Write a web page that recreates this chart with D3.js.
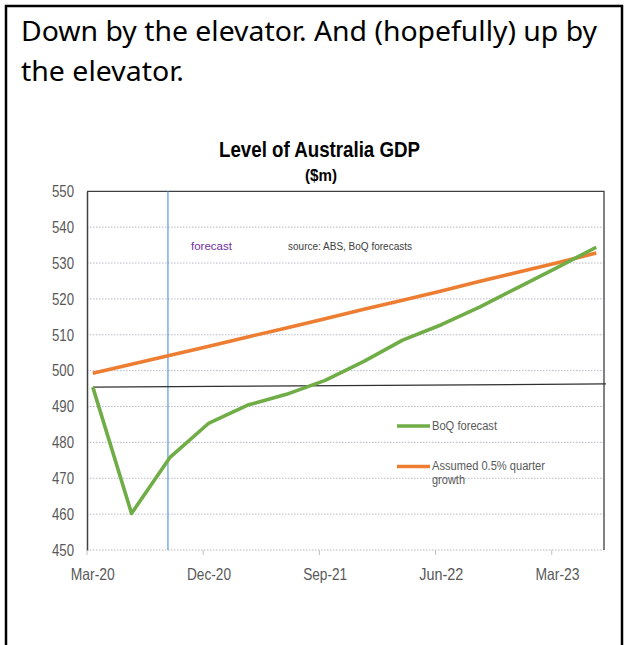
<!DOCTYPE html>
<html>
<head>
<meta charset="utf-8">
<script src="https://cdn.jsdelivr.net/npm/d3@7"></script>
<style>
  html, body { margin: 0; padding: 0; background: #fff; }
  svg { display: block; }
</style>
</head>
<body>
<svg id="chart" width="626" height="645"></svg>
<script>
// ---- data ----
const quarters = ["Mar-20","Jun-20","Sep-20","Dec-20","Mar-21","Jun-21","Sep-21","Dec-21","Mar-22","Jun-22","Sep-22","Dec-22","Mar-23","Jun-23"];
const boqForecast = [495.4, 460.2, 475.9, 485.4, 490.4, 493.4, 497.3, 502.6, 508.5, 512.8, 517.8, 523.3, 528.8, 534.4];
const assumedGrowth = [499.3, 501.8, 504.3, 506.8, 509.4, 511.9, 514.5, 517.1, 519.6, 522.2, 524.9, 527.5, 530.1, 532.8];
const preCovidLevel = [495.4, 496.3];          // black reference line, start and end
const preCovidIdx = [0, 13.25];
const tickLabels = ["Mar-20","Dec-20","Sep-21","Jun-22","Mar-23"];
const yTicks = [450,460,470,480,490,500,510,520,530,540,550];
const forecastStartIdx = 1.94;
const seriesNames = ["BoQ forecast", "Assumed 0.5% quarter", "growth"];

// ---- layout ----
const svg = d3.select("#chart");
const L = 87, R = 604, T = 191.3, B = 550;
const x = d3.scaleLinear().domain([-0.15, 13.2]).range([L, R]);
const y = d3.scaleLinear().domain([450, 550]).range([B, T]);
const narrow = "'Liberation Sans Narrow','Arial Narrow','Liberation Sans',Arial,sans-serif";

// outer frame
svg.append("rect").attr("x", 6).attr("y", 6).attr("width", 616).attr("height", 680)
  .attr("fill", "none").attr("stroke", "#000").attr("stroke-width", 2.5);

// header text
const hdr = svg.append("g").attr("font-family", "Tahoma,'Noto Sans','Open Sans',sans-serif")
  .attr("font-size", 27).attr("fill", "#000");
hdr.append("text").attr("x", 21).attr("y", 41).attr("textLength", 576).attr("lengthAdjust", "spacingAndGlyphs")
  .text("Down by the elevator. And (hopefully) up by");
hdr.append("text").attr("x", 21).attr("y", 81).attr("textLength", 163).attr("lengthAdjust", "spacingAndGlyphs")
  .text("the elevator.");

// title
svg.append("text").attr("x", 219).attr("y", 157).attr("font-family", narrow).attr("font-weight", "bold")
  .attr("font-size", 22).attr("textLength", 201).attr("lengthAdjust", "spacingAndGlyphs").attr("fill", "#000")
  .text("Level of Australia GDP");
svg.append("text").attr("x", 305).attr("y", 181).attr("font-family", narrow).attr("font-weight", "bold")
  .attr("font-size", 17).attr("textLength", 32).attr("lengthAdjust", "spacingAndGlyphs").attr("fill", "#000")
  .text("($m)");

// gridlines
svg.append("g").selectAll("line").data(yTicks.filter(v => v > 450 && v < 550)).join("line")
  .attr("x1", L).attr("x2", R).attr("y1", d => y(d)).attr("y2", d => y(d))
  .attr("stroke", "#b8b8cc").attr("stroke-width", 1).attr("stroke-dasharray", "1.5,1.5");
// bottom line (dotted)
svg.append("line").attr("x1", L).attr("x2", R).attr("y1", y(450)).attr("y2", y(450))
  .attr("stroke", "#b8b8b8").attr("stroke-width", 1).attr("stroke-dasharray", "1.5,1.5");
// top and right border
svg.append("path").attr("d", `M${L},${y(550)}H${R}V${y(450)}`).attr("fill", "none")
  .attr("stroke", "#404040").attr("stroke-width", 1.3);

// y axis
const yAxis = d3.axisLeft(y).tickValues(yTicks).tickSize(0).tickPadding(13);
const ya = svg.append("g").attr("transform", `translate(${L},0)`).call(yAxis);
ya.select(".domain").attr("stroke", "#404040").attr("stroke-width", 1.5);
ya.selectAll("text").attr("font-family", narrow).attr("font-size", 16.5).attr("fill", "#595959")
  .attr("textLength", 22).attr("lengthAdjust", "spacingAndGlyphs");

// x axis
const tickIdx = tickLabels.map(t => quarters.indexOf(t));
const xa = svg.append("g");
xa.selectAll("line").data(tickIdx).join("line")
  .attr("x1", d => x(d - 0.15)).attr("x2", d => x(d - 0.15)).attr("y1", B).attr("y2", B + 5)
  .attr("stroke", "#c0c0c0").attr("stroke-width", 1);
xa.selectAll("text").data(tickIdx).join("text")
  .attr("x", d => x(d) - 22).attr("y", B + 30)
  .attr("font-family", narrow).attr("font-size", 16.5).attr("fill", "#595959")
  .attr("textLength", 44).attr("lengthAdjust", "spacingAndGlyphs")
  .text(d => quarters[d]);

// forecast start line
svg.append("line").attr("x1", x(forecastStartIdx)).attr("x2", x(forecastStartIdx))
  .attr("y1", y(550)).attr("y2", y(450)).attr("stroke", "#5b9bd5").attr("stroke-width", 1.2);

// pre-covid level reference line
svg.append("path").datum(preCovidIdx.map((i, k) => [i, preCovidLevel[k]]))
  .attr("d", d3.line().x(d => x(d[0])).y(d => y(d[1])))
  .attr("fill", "none").attr("stroke", "#303030").attr("stroke-width", 1.3);

// series
const line = d3.line().x((d, i) => x(i)).y(d => y(d));
svg.append("path").datum(assumedGrowth).attr("d", line).attr("fill", "none")
  .attr("stroke", "#ed7d31").attr("stroke-width", 3.6).attr("stroke-linejoin", "round");
svg.append("path").datum(boqForecast).attr("d", line).attr("fill", "none")
  .attr("stroke", "#70ad47").attr("stroke-width", 3.6).attr("stroke-linejoin", "round");

// annotations
svg.append("text").attr("x", 191).attr("y", 250).attr("font-family", narrow).attr("font-size", 11)
  .attr("fill", "#7030a0").attr("textLength", 41).attr("lengthAdjust", "spacingAndGlyphs").text("forecast");
svg.append("text").attr("x", 288).attr("y", 250).attr("font-family", narrow).attr("font-size", 10)
  .attr("fill", "#404040").attr("textLength", 124).attr("lengthAdjust", "spacingAndGlyphs").text("source:  ABS, BoQ forecasts");

// legend
const lg = svg.append("g");
lg.append("line").attr("x1", 397).attr("x2", 430).attr("y1", 426).attr("y2", 426)
  .attr("stroke", "#70ad47").attr("stroke-width", 3.6);
lg.append("text").attr("x", 432).attr("y", 430).attr("font-family", narrow).attr("font-size", 12)
  .attr("fill", "#595959").attr("textLength", 65).attr("lengthAdjust", "spacingAndGlyphs").text(seriesNames[0]);
lg.append("line").attr("x1", 397).attr("x2", 430).attr("y1", 466.5).attr("y2", 466.5)
  .attr("stroke", "#ed7d31").attr("stroke-width", 3.6);
lg.append("text").attr("x", 432).attr("y", 470).attr("font-family", narrow).attr("font-size", 12)
  .attr("fill", "#595959").attr("textLength", 113).attr("lengthAdjust", "spacingAndGlyphs").text(seriesNames[1]);
lg.append("text").attr("x", 432).attr("y", 484).attr("font-family", narrow).attr("font-size", 12)
  .attr("fill", "#595959").attr("textLength", 33).attr("lengthAdjust", "spacingAndGlyphs").text(seriesNames[2]);
</script>
</body>
</html>
